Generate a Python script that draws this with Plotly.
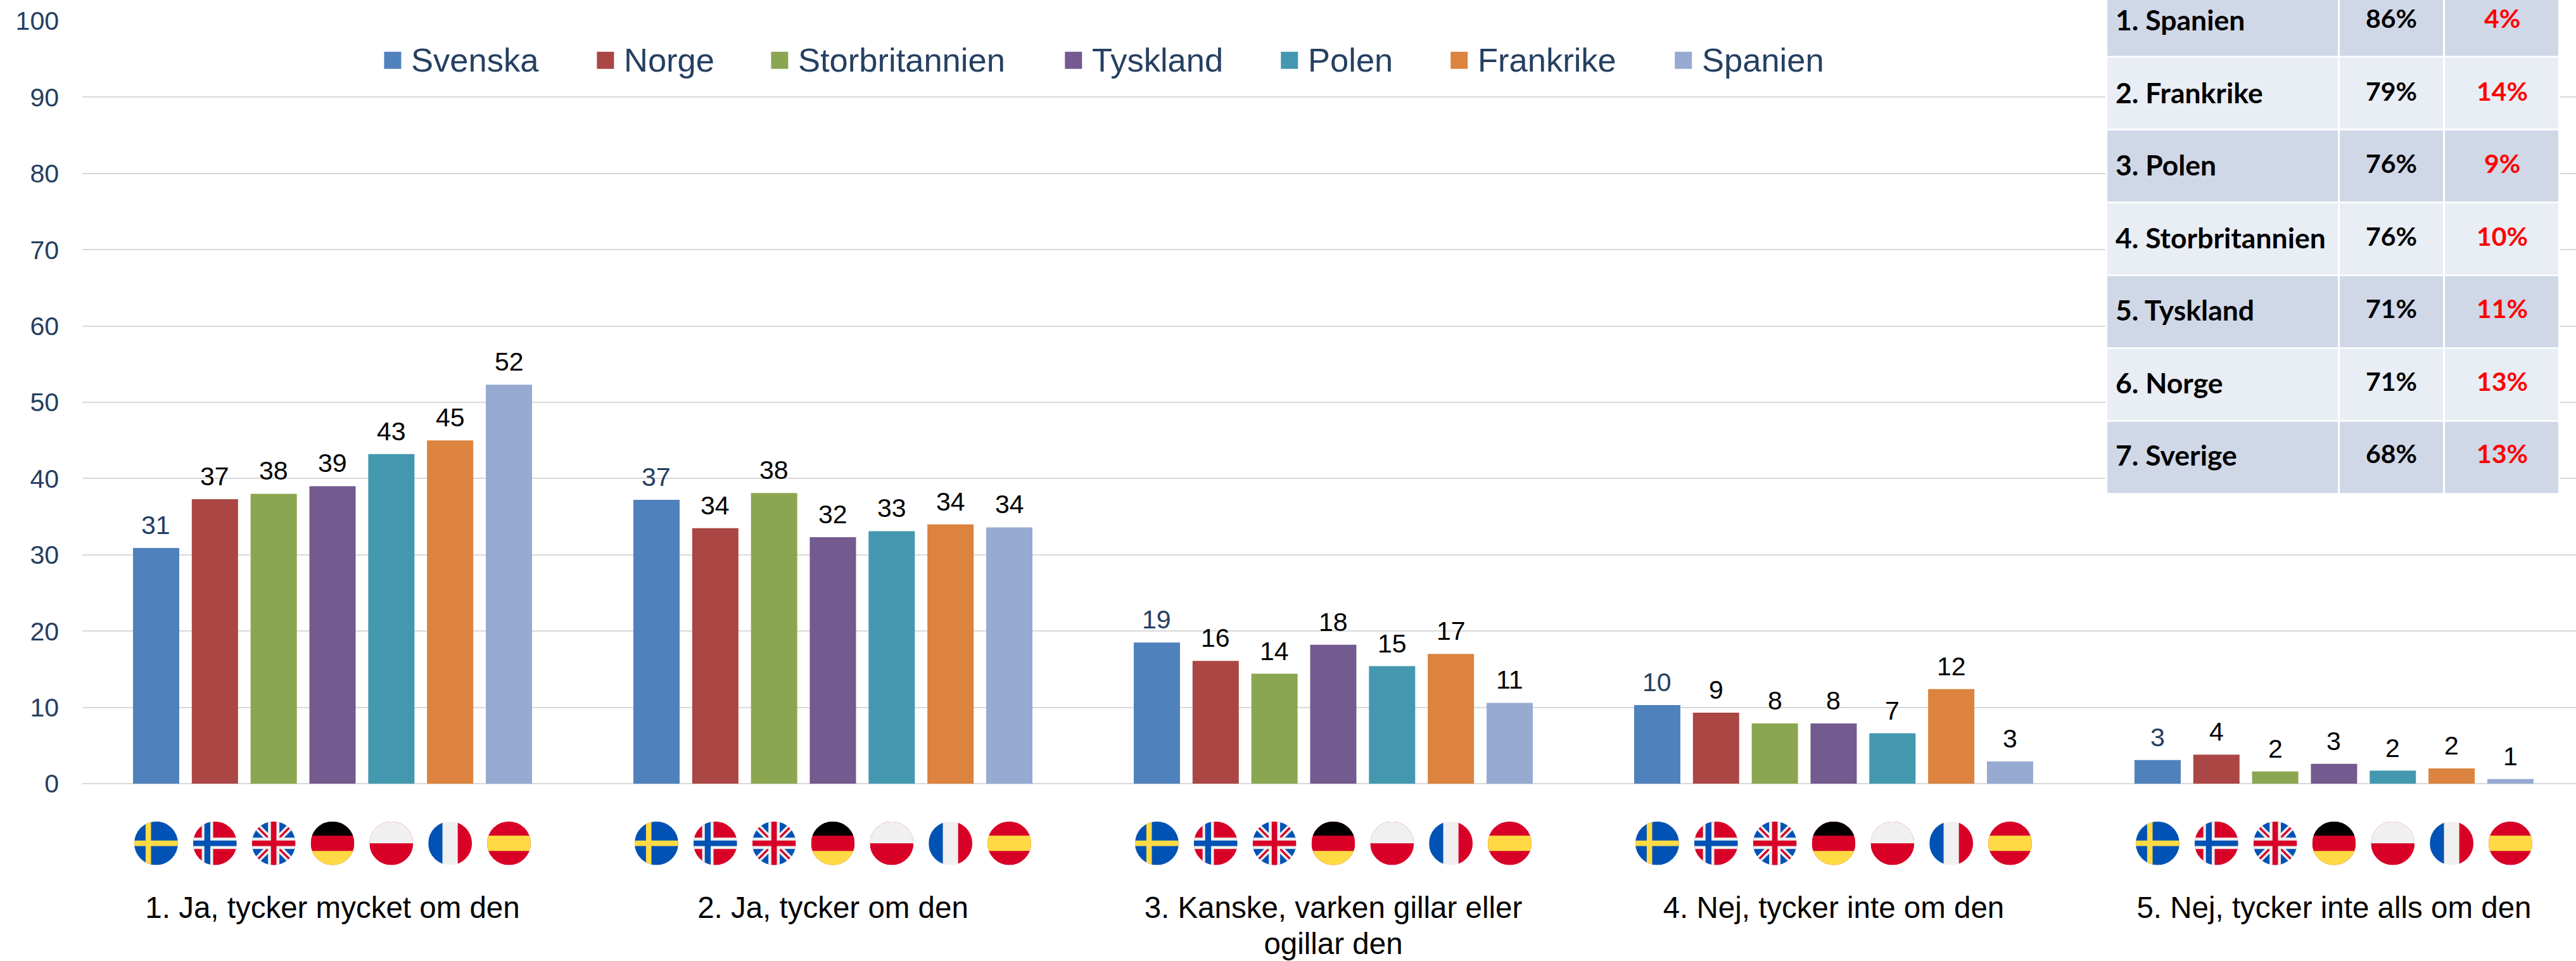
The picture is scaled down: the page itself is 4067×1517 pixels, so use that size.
import base64
import plotly.graph_objects as go

categories = ["1. Ja, tycker mycket om den", "2. Ja, tycker om den",
              "3. Kanske, varken gillar eller<br>ogillar den",
              "4. Nej, tycker inte om den", "5. Nej, tycker inte alls om den"]
series_names = ["Svenska", "Norge", "Storbritannien", "Tyskland", "Polen", "Frankrike", "Spanien"]
svenska = [30.9, 37.2, 18.5, 10.3, 3.1]
norge = [37.3, 33.5, 16.1, 9.3, 3.8]
storbritannien = [38.0, 38.1, 14.4, 7.9, 1.6]
tyskland = [39.0, 32.3, 18.2, 7.9, 2.6]
polen = [43.2, 33.1, 15.4, 6.6, 1.7]
frankrike = [45.0, 34.0, 17.0, 12.4, 2.0]
spanien = [52.3, 33.6, 10.6, 2.9, 0.6]
series_values = [svenska, norge, storbritannien, tyskland, polen, frankrike, spanien]
colors = ["#4F81BD", "#AA4644", "#8BA650", "#735A8F", "#4398B0", "#DB833F", "#96AAD2"]

table_names = ["1. Spanien", "2. Frankrike", "3. Polen", "4. Storbritannien", "5. Tyskland", "6. Norge", "7. Sverige"]
table_yes = ["86%", "79%", "76%", "76%", "71%", "71%", "68%"]
table_no = ["4%", "14%", "9%", "10%", "11%", "13%", "13%"]

W, H = 4067, 1517
L, T, Y0 = 129.5, 33.3, 1237.3
GROUP_PX, SLOT_PX, BAR_PX = 790.1, 92.85, 73.0
CENTER0 = 524.5
NAVY = "#254061"
ARIAL = "Liberation Sans"
TABLE_FONT = "Lato"


def px(x):
    return (x - L) / (W - L)


def py(y):
    return (Y0 - y) / (Y0 - T)


fig = go.Figure()
idx = list(range(len(categories)))
for name, vals, col in zip(series_names, series_values, colors):
    fig.add_trace(go.Bar(name=name, x=idx, y=vals, marker=dict(color=col, line=dict(width=0)), showlegend=False))

ann, shapes, images = [], [], []

# value labels
for j, vals in enumerate(series_values):
    for i, v in enumerate(vals):
        ann.append(dict(x=i + (j - 3) * SLOT_PX / GROUP_PX, y=v, xref="x", yref="y", text=str(int(v + 0.5)),
                        showarrow=False, xanchor="center", yanchor="bottom", yshift=11,
                        font=dict(family=ARIAL, size=41, color=NAVY if j == 0 else "#000000")))

# legend
legend_swatch_x = [606, 942, 1217, 1681, 2022, 2290, 2644]
for name, col, sx in zip(series_names, colors, legend_swatch_x):
    shapes.append(dict(type="rect", xref="paper", yref="paper", x0=px(sx), x1=px(sx + 27),
                       y0=py(109), y1=py(82), fillcolor=col, line=dict(width=0), layer="above"))
    ann.append(dict(x=px(sx + 41), y=py(95), xref="paper", yref="paper", text=name, showarrow=False,
                    xanchor="left", yanchor="middle", font=dict(family=ARIAL, size=52.5, color=NAVY)))

# table
shapes.append(dict(type="rect", xref="paper", yref="paper", x0=px(3324), x1=px(4042), y0=py(781), y1=py(-5),
                   fillcolor="#FFFFFF", line=dict(width=0), layer="above"))
col_edges = [(3327, 3691), (3694, 3857), (3860, 4039)]
for r, (a, b, c) in enumerate(zip(table_names, table_yes, table_no)):
    top = -24 + 115 * r
    y0, y1 = top, top + 112.5
    fill = "#D0D8E8" if r % 2 == 0 else "#E9EDF4"
    for x0, x1 in col_edges:
        shapes.append(dict(type="rect", xref="paper", yref="paper", x0=px(x0), x1=px(x1),
                           y0=py(y1), y1=py(max(y0, -5)), fillcolor=fill, line=dict(width=0), layer="above"))
    yc = 31 + 114.5 * r
    ann.append(dict(x=px(3338), y=py(yc), xref="paper", yref="paper", text=f"<b>{a}</b>", showarrow=False,
                    xanchor="left", yanchor="middle", font=dict(family=TABLE_FONT, size=44.5, color="#000000")))
    ann.append(dict(x=px(3775.5), y=py(yc - 2), xref="paper", yref="paper", text=f"<b>{b}</b>", showarrow=False,
                    xanchor="center", yanchor="middle", font=dict(family=TABLE_FONT, size=41, color="#000000")))
    ann.append(dict(x=px(3950), y=py(yc - 2), xref="paper", yref="paper", text=f"<b>{c}</b>", showarrow=False,
                    xanchor="center", yanchor="middle", font=dict(family=TABLE_FONT, size=41, color="#FF0000")))

# flags
BLUE, YEL, RED, WHT = "#0052B4", "#FFDA44", "#D80027", "#F0F0F0"


def R(x, y, w, h, c):
    return f'<rect x="{x}" y="{y}" width="{w}" height="{h}" fill="{c}"/>'


def line(x1, y1, x2, y2, c, w):
    return f'<line x1="{x1}" y1="{y1}" x2="{x2}" y2="{y2}" stroke="{c}" stroke-width="{w}"/>'


flag_bodies = [
    R(0, 0, 100, 100, BLUE) + R(26, 0, 12.5, 100, YEL) + R(0, 43.7, 100, 12.6, YEL),
    R(0, 0, 100, 100, RED) + R(20, 0, 26, 100, WHT) + R(0, 37, 100, 26, WHT) + R(26, 0, 13.5, 100, BLUE) + R(0, 43.7, 100, 12.6, BLUE),
    R(0, 0, 100, 100, BLUE) + line(0, 0, 100, 100, WHT, 15) + line(100, 0, 0, 100, WHT, 15)
    + line(0, 0, 100, 100, RED, 5) + line(100, 0, 0, 100, RED, 5) + R(37, 0, 26, 100, WHT) + R(0, 37, 100, 26, WHT)
    + R(43.7, 0, 12.6, 100, RED) + R(0, 43.7, 100, 12.6, RED),
    R(0, 0, 100, 100, RED) + R(0, 0, 100, 32.5, "#000000") + R(0, 67.5, 100, 32.5, YEL),
    R(0, 0, 100, 100, RED) + R(0, 0, 100, 50, WHT),
    R(0, 0, 100, 100, WHT) + R(0, 0, 32.5, 100, BLUE) + R(67.5, 0, 32.5, 100, RED),
    R(0, 0, 100, 100, RED) + R(0, 32.5, 100, 35, YEL),
]


def flag_uri(body):
    svg = ('<svg xmlns="http://www.w3.org/2000/svg" width="200" height="200" viewBox="0 0 100 100">'
           '<defs><clipPath id="c"><circle cx="50" cy="50" r="50"/></clipPath></defs>'
           f'<g clip-path="url(#c)">{body}</g></svg>')
    return "data:image/svg+xml;base64," + base64.b64encode(svg.encode()).decode()


for i in idx:
    for j, body in enumerate(flag_bodies):
        cx = CENTER0 + i * GROUP_PX + (j - 3) * SLOT_PX
        images.append(dict(source=flag_uri(body), xref="paper", yref="paper", x=px(cx), y=py(1331.5),
                           sizex=69 / (W - L), sizey=69 / (Y0 - T), xanchor="center", yanchor="middle",
                           layer="above", sizing="stretch"))

# inner span enlarges the glyphs; the line step follows the smaller tick font
tick_text = ["<br>".join(f'<span style="font-size:47.5px">{part}</span>' for part in c.split("<br>")) for c in categories]

fig.update_layout(
    width=W, height=H, margin=dict(l=L, r=0, t=T, b=H - Y0), autosize=False,
    paper_bgcolor="#FFFFFF", plot_bgcolor="#FFFFFF",
    barmode="group", bargap=1 - 7 * SLOT_PX / GROUP_PX, bargroupgap=1 - BAR_PX / SLOT_PX,
    showlegend=False, annotations=ann, shapes=shapes, images=images,
    xaxis=dict(range=[-0.5, (W - CENTER0) / GROUP_PX], tickmode="array", tickvals=idx, ticktext=tick_text,
               showgrid=False, zeroline=False, showline=False, ticks="", ticklabelstandoff=167,
               tickfont=dict(family=ARIAL, size=44, color="#000000"), automargin=False),
    yaxis=dict(range=[0, 100], tickmode="array", tickvals=list(range(0, 101, 10)), showgrid=True,
               gridcolor="#D9D9D9", gridwidth=2, zeroline=True, zerolinecolor="#D9D9D9", zerolinewidth=2,
               showline=False, ticks="", ticklabelstandoff=36,
               tickfont=dict(family=ARIAL, size=41, color=NAVY), automargin=False),
)
fig.write_html("out.html", config={"displayModeBar": False},
               post_script="document.body.style.margin='0';document.body.style.overflow='hidden';")
